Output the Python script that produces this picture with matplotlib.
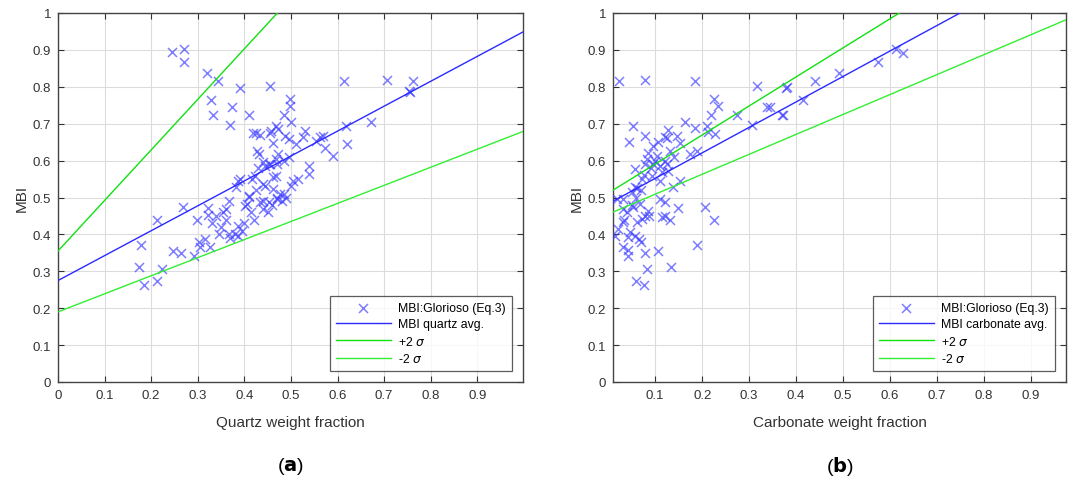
import numpy as np
import matplotlib
matplotlib.use("Agg")
import matplotlib.pyplot as plt

plt.rcParams['font.family'] = ['Liberation Sans', 'DejaVu Sans']

# panel (a): quartz weight fraction vs MBI
quartz_x = [0.245, 0.271, 0.271, 0.320, 0.344, 0.391, 0.454, 0.329, 0.374, 0.333,
            0.370, 0.411, 0.497, 0.497, 0.486, 0.499, 0.467, 0.424, 0.434, 0.454,
            0.462, 0.488, 0.495, 0.510, 0.531, 0.525, 0.428, 0.432, 0.473, 0.495,
            0.538, 0.538, 0.505, 0.516, 0.387, 0.381, 0.467, 0.455, 0.445, 0.430,
            0.467, 0.422, 0.439, 0.445, 0.425, 0.178, 0.174, 0.185, 0.213, 0.213,
            0.224, 0.247, 0.265, 0.269, 0.299, 0.323, 0.323, 0.303, 0.305, 0.292,
            0.327, 0.316, 0.366, 0.366, 0.387, 0.387, 0.406, 0.409, 0.613, 0.707,
            0.761, 0.753, 0.756, 0.671, 0.619, 0.621, 0.591, 0.574, 0.563, 0.568,
            0.553, 0.458, 0.473, 0.419, 0.441, 0.452, 0.471, 0.484, 0.417, 0.462,
            0.462, 0.477, 0.471, 0.452, 0.434, 0.409, 0.402, 0.391, 0.370, 0.380,
            0.400, 0.420, 0.440, 0.450, 0.460, 0.470, 0.480, 0.490, 0.440, 0.360,
            0.350, 0.340, 0.330, 0.355, 0.345, 0.360, 0.395, 0.415, 0.485, 0.500]
quartz_y = [0.894, 0.902, 0.867, 0.837, 0.816, 0.796, 0.802, 0.764, 0.745, 0.724,
            0.696, 0.724, 0.767, 0.748, 0.724, 0.705, 0.694, 0.675, 0.669, 0.675,
            0.648, 0.667, 0.659, 0.645, 0.680, 0.664, 0.626, 0.618, 0.618, 0.609,
            0.586, 0.564, 0.545, 0.550, 0.545, 0.528, 0.604, 0.590, 0.585, 0.580,
            0.558, 0.558, 0.537, 0.530, 0.520, 0.371, 0.312, 0.263, 0.439, 0.274,
            0.306, 0.355, 0.350, 0.474, 0.439, 0.472, 0.453, 0.379, 0.366, 0.342,
            0.366, 0.388, 0.490, 0.401, 0.423, 0.396, 0.482, 0.504, 0.816, 0.818,
            0.816, 0.789, 0.786, 0.704, 0.694, 0.645, 0.613, 0.633, 0.664, 0.667,
            0.653, 0.680, 0.686, 0.675, 0.596, 0.591, 0.591, 0.599, 0.550, 0.556,
            0.523, 0.509, 0.496, 0.488, 0.488, 0.501, 0.477, 0.550, 0.390, 0.400,
            0.430, 0.440, 0.470, 0.460, 0.480, 0.500, 0.490, 0.500, 0.490, 0.440,
            0.420, 0.450, 0.430, 0.460, 0.400, 0.470, 0.410, 0.460, 0.510, 0.530]

# panel (b): carbonate weight fraction vs MBI
carb_x = [0.023, 0.079, 0.185, 0.317, 0.379, 0.415, 0.226, 0.234, 0.219, 0.338,
          0.274, 0.372, 0.306, 0.164, 0.053, 0.045, 0.079, 0.128, 0.121, 0.146,
          0.153, 0.185, 0.211, 0.228, 0.213, 0.096, 0.104, 0.132, 0.174, 0.189,
          0.083, 0.079, 0.057, 0.111, 0.125, 0.128, 0.094, 0.072, 0.153, 0.057,
          0.062, 0.110, 0.138, 0.019, 0.032, 0.051, 0.149, 0.206, 0.226, 0.189,
          0.134, 0.083, 0.060, 0.077, 0.106, 0.079, 0.043, 0.043, 0.032, 0.015,
          0.021, 0.047, 0.043, 0.057, 0.066, 0.070, 0.032, 0.034, 0.062, 0.072,
          0.079, 0.085, 0.087, 0.115, 0.121, 0.132, 0.111, 0.121, 0.032, 0.040,
          0.068, 0.053, 0.381, 0.440, 0.491, 0.574, 0.613, 0.628, 0.345, 0.370,
          0.100, 0.090, 0.115, 0.120, 0.140, 0.070, 0.060, 0.050, 0.085, 0.105,
          0.125, 0.095, 0.075]
carb_y = [0.816, 0.818, 0.816, 0.802, 0.796, 0.764, 0.767, 0.748, 0.724, 0.745,
          0.724, 0.724, 0.696, 0.705, 0.694, 0.650, 0.667, 0.683, 0.664, 0.667,
          0.648, 0.688, 0.694, 0.672, 0.678, 0.640, 0.612, 0.626, 0.618, 0.626,
          0.604, 0.591, 0.577, 0.586, 0.591, 0.572, 0.558, 0.550, 0.545, 0.528,
          0.525, 0.545, 0.528, 0.496, 0.496, 0.515, 0.472, 0.474, 0.439, 0.371,
          0.312, 0.306, 0.274, 0.263, 0.355, 0.350, 0.342, 0.358, 0.366, 0.396,
          0.415, 0.406, 0.393, 0.396, 0.388, 0.380, 0.434, 0.440, 0.434, 0.442,
          0.450, 0.463, 0.450, 0.447, 0.450, 0.439, 0.496, 0.488, 0.469, 0.460,
          0.482, 0.475, 0.799, 0.816, 0.837, 0.867, 0.902, 0.892, 0.745, 0.724,
          0.600, 0.580, 0.570, 0.600, 0.610, 0.520, 0.500, 0.480, 0.620, 0.650,
          0.660, 0.590, 0.560]

# fitted lines: (intercept, slope)
quartz_avg = (0.275, 0.675)
quartz_plus = (0.355, 1.37)
quartz_minus = (0.19, 0.49)
carb_avg = (0.483, 0.69)
carb_plus = (0.512, 0.787)
carb_minus = (0.455, 0.54)

scatter_label = 'MBI:Glorioso (Eq.3)'
xticks = [0, 0.1, 0.2, 0.3, 0.4, 0.5, 0.6, 0.7, 0.8, 0.9]
yticks = [0, 0.1, 0.2, 0.3, 0.4, 0.5, 0.6, 0.7, 0.8, 0.9, 1]

W, H = 1069, 481
fig = plt.figure(figsize=(W / 100, H / 100), dpi=100)


def make_axes(left, right):
    return fig.add_axes([left / W, 1 - 383 / H, (right - left) / W, (383 - 14) / H])


def draw_panel(ax, xs, ys, avg, plus, minus, xlim, avg_label, xlabel, tag):
    ax.scatter(xs, ys, marker='x', s=42, color='#3838ff', alpha=0.65,
               linewidths=1.1, label=scatter_label, zorder=3)
    xl = np.array(xlim)
    ax.plot(xl, avg[0] + avg[1] * xl, color='#2a2aff', lw=1.0, label=avg_label, zorder=4)
    ax.plot(xl, plus[0] + plus[1] * xl, color='#11e011', lw=1.0, label=r'+2 $\sigma$', zorder=4)
    ax.plot(xl, minus[0] + minus[1] * xl, color='#33ee33', lw=1.0, label=r'-2 $\sigma$', zorder=4)
    ax.set_xlim(*xlim)
    ax.set_ylim(0, 1)
    ax.set_xticks([t for t in xticks if xlim[0] <= t <= xlim[1]])
    ax.set_xticklabels([('%g' % t) for t in xticks if xlim[0] <= t <= xlim[1]])
    ax.set_yticks(yticks)
    ax.set_yticklabels([('%g' % t) for t in yticks])
    ax.grid(True, color='#dcdcdc', lw=0.8)
    ax.set_axisbelow(True)
    ax.tick_params(direction='in', top=True, right=True, labelsize=9.5,
                   length=4, color='#333333', labelcolor='#333333', pad=5)
    for s in ax.spines.values():
        s.set_color('#444444')
        s.set_linewidth(1.0)
    ax.set_xlabel(xlabel, fontsize=11, color='#333333', labelpad=10)
    ax.set_ylabel('MBI', fontsize=11, color='#333333', labelpad=3)
    leg = ax.legend(loc='lower right', fontsize=8.8, frameon=True, fancybox=False,
                    edgecolor='#333333', handlelength=4.5, borderaxespad=0.9,
                    labelspacing=0.35, borderpad=0.5, handletextpad=0.6)
    leg.get_frame().set_linewidth(0.9)
    cx = (ax.get_position().x0 + ax.get_position().x1) / 2
    fig.text(cx, 14 / H, '(' + r'$\mathbf{' + tag + '}$' + ')', ha='center',
             va='center', fontsize=14)


ax1 = make_axes(58, 523)
draw_panel(ax1, quartz_x, quartz_y, quartz_avg, quartz_plus, quartz_minus,
           (0, 0.998), 'MBI quartz avg.', 'Quartz weight fraction', 'a')

ax2 = make_axes(613, 1066)
draw_panel(ax2, carb_x, carb_y, carb_avg, carb_plus, carb_minus,
           (0.01, 0.975), 'MBI carbonate avg.', 'Carbonate weight fraction', 'b')

fig.savefig('out.png', dpi=100)
